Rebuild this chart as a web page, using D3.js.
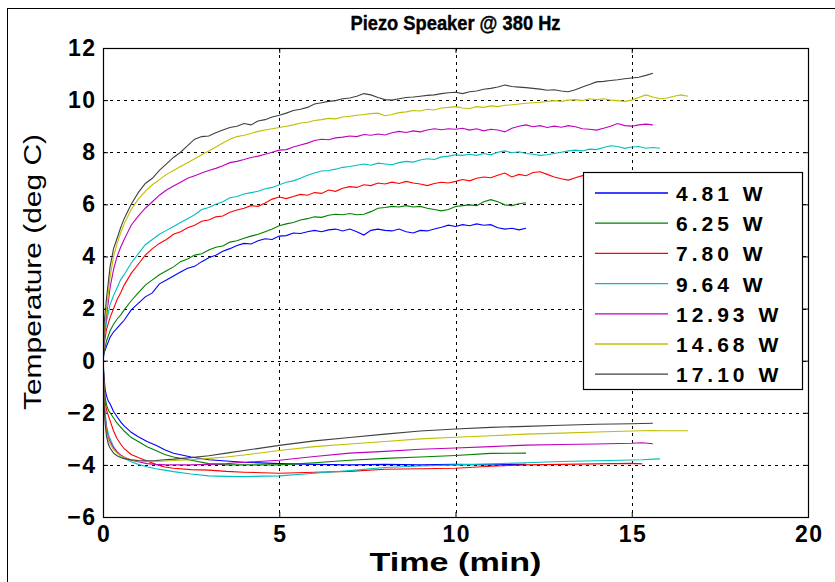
<!DOCTYPE html>
<html>
<head>
<meta charset="utf-8">
<script src="https://cdn.jsdelivr.net/npm/d3@7"></script>
<style>
  html, body { margin: 0; padding: 0; background: #fff; }
  svg { display: block; }
  text { font-family: "Liberation Sans", Arial, sans-serif; }
</style>
</head>
<body>
<div id="chart"></div>
<script>
// ---------------- DATA ----------------
const title = "Piezo Speaker @ 380 Hz";
const xLabel = "Time (min)";
const yLabel = "Temperature (deg C)";
const xTicks = [0, 5, 10, 15, 20];
const yTicks = [-6, -4, -2, 0, 2, 4, 6, 8, 10, 12];
const seriesNames = ["4.81 W", "6.25 W", "7.80 W", "9.64 W", "12.93 W", "14.68 W", "17.10 W"];
const seriesColors = ["#0000ff", "#008000", "#ff0000", "#00bfbf", "#bf00bf", "#bfbf00", "#404040"];

// time grid (min) for the heating (upper) curves
const timeUp = [0, 0.03, 0.1, 0.2, 0.3, 0.4, 0.5, 0.6, 0.8, 1.0,
  1.2, 1.4, 1.6, 1.8, 2.0, 2.2, 2.4, 2.6, 2.8, 3.0, 3.2, 3.4, 3.6, 3.8, 4.0,
  4.2, 4.4, 4.6, 4.8, 5.0, 5.2, 5.4, 5.6, 5.8, 6.0, 6.2, 6.4, 6.6, 6.8, 7.0,
  7.2, 7.4, 7.6, 7.8, 8.0, 8.2, 8.4, 8.6, 8.8, 9.0, 9.2, 9.4, 9.6, 9.8, 10.0,
  10.2, 10.4, 10.6, 10.8, 11.0, 11.2, 11.4, 11.6, 11.8, 12.0, 12.2, 12.4, 12.6, 12.8, 13.0,
  13.2, 13.4, 13.6, 13.8, 14.0, 14.2, 14.4, 14.6, 14.8, 15.0, 15.2, 15.4, 15.6, 15.8, 16.0,
  16.2, 16.4, 16.6];

const up481 = [0, 0.3, 0.55, 0.9, 1.1, 1.25, 1.4, 1.55, 1.95, 2.2,
  2.45, 2.6, 2.95, 3.1, 3.25, 3.4, 3.55, 3.62, 3.8, 3.95, 4.05, 4.2, 4.3, 4.42, 4.5,
  4.48, 4.6, 4.68, 4.65, 4.78, 4.8, 4.9, 4.88, 4.95, 5.0, 4.95, 5.02, 5.05, 4.98, 5.05,
  4.95, 4.82, 5.0, 5.05, 5.0, 4.98, 5.05, 4.95, 4.9, 5.0, 4.98, 5.05, 5.12, 5.2, 5.15,
  5.22, 5.18, 5.25, 5.2, 5.22, 5.1, 5.05, 5.08, 5.02, 5.08];
const up625 = [0, 0.35, 0.75, 1.15, 1.4, 1.6, 1.75, 1.95, 2.3, 2.6,
  2.9, 3.1, 3.3, 3.45, 3.6, 3.8, 3.9, 4.05, 4.1, 4.25, 4.35, 4.4, 4.55, 4.6, 4.7,
  4.78, 4.85, 4.95, 5.05, 5.18, 5.25, 5.3, 5.4, 5.45, 5.52, 5.5, 5.58, 5.62, 5.6, 5.65,
  5.6, 5.62, 5.72, 5.85, 5.88, 5.92, 5.9, 5.95, 5.9, 5.92, 5.85, 5.8, 5.75, 5.8, 5.92,
  5.95, 5.98, 5.95, 6.1, 6.18, 6.1, 5.98, 5.95, 6.02, 6.06];
const up780 = [0, 0.6, 1.2, 1.65, 2.0, 2.35, 2.6, 2.9, 3.35, 3.7,
  4.05, 4.3, 4.5, 4.65, 4.85, 4.95, 5.1, 5.2, 5.35, 5.4, 5.52, 5.55, 5.7, 5.78, 5.85,
  5.95, 5.92, 6.05, 6.2, 6.28, 6.22, 6.3, 6.38, 6.35, 6.45, 6.42, 6.55, 6.5, 6.62, 6.68,
  6.65, 6.75, 6.72, 6.82, 6.78, 6.85, 6.8, 6.88, 6.82, 6.78, 6.72, 6.8, 6.85, 6.82, 6.88,
  6.95, 6.9, 7.0, 7.05, 7.02, 7.12, 7.2, 7.05, 7.15, 7.1, 7.22, 7.25, 7.15, 7.05, 6.98,
  6.93, 7.02, 7.1, 7.05, 7.12, 7.08, 7.18, 7.12, 7.2, 7.15, 7.18, 7.12];
const up964 = [0, 0.8, 1.5, 2.15, 2.5, 2.8, 3.1, 3.3, 3.75, 4.1,
  4.45, 4.65, 4.85, 5.0, 5.15, 5.3, 5.45, 5.6, 5.8, 5.88, 6.0, 6.1, 6.25, 6.3, 6.4,
  6.45, 6.5, 6.6, 6.65, 6.75, 6.85, 6.9, 7.0, 7.12, 7.2, 7.28, 7.3, 7.35, 7.42, 7.45,
  7.5, 7.55, 7.5, 7.58, 7.55, 7.52, 7.6, 7.65, 7.62, 7.7, 7.75, 7.72, 7.82, 7.85, 7.9,
  7.88, 7.92, 7.88, 7.95, 7.9, 8.0, 8.05, 7.98, 8.02, 7.95, 7.92, 7.88, 7.9, 7.95, 8.0,
  8.05, 8.08, 8.05, 8.12, 8.1, 8.18, 8.25, 8.22, 8.15, 8.2, 8.22, 8.15, 8.18, 8.15];
const up1293 = [0, 1.0, 1.7, 2.8, 3.5, 4.0, 4.35, 4.65, 5.2, 5.55,
  5.85, 6.1, 6.35, 6.55, 6.7, 6.85, 7.0, 7.1, 7.2, 7.3, 7.38, 7.48, 7.6, 7.65, 7.72,
  7.8, 7.85, 7.92, 8.0, 8.08, 8.1, 8.2, 8.28, 8.35, 8.45, 8.5, 8.48, 8.55, 8.58, 8.62,
  8.6, 8.68, 8.65, 8.7, 8.66, 8.75, 8.8, 8.76, 8.82, 8.78, 8.85, 8.9, 8.86, 8.9, 8.88,
  8.92, 8.85, 8.9, 8.82, 8.88, 8.85, 8.78, 8.92, 9.0, 9.05, 8.98, 9.02, 8.95, 9.0, 8.96,
  9.02, 8.98, 8.9, 8.88, 8.85, 8.92, 9.0, 9.1, 9.02, 9.0, 9.05, 9.08, 9.05];
const up1468 = [0, 1.1, 1.9, 3.2, 4.0, 4.5, 4.9, 5.25, 5.8, 6.2,
  6.5, 6.75, 6.95, 7.15, 7.3, 7.45, 7.6, 7.75, 7.9, 8.05, 8.2, 8.35, 8.5, 8.6, 8.65,
  8.72, 8.8, 8.85, 8.9, 8.95, 9.0, 9.05, 9.12, 9.15, 9.22, 9.25, 9.3, 9.28, 9.35, 9.38,
  9.42, 9.45, 9.48, 9.5, 9.4, 9.45, 9.52, 9.55, 9.6, 9.58, 9.65, 9.62, 9.7, 9.72, 9.75,
  9.7, 9.68, 9.75, 9.72, 9.78, 9.75, 9.8, 9.82, 9.85, 9.88, 9.9, 9.92, 9.95, 9.98, 9.95,
  10.0, 10.02, 9.98, 10.05, 10.02, 10.05, 10.0, 9.98, 9.95, 10.0, 10.1, 10.2, 10.12, 10.05, 10.08,
  10.15, 10.2, 10.15];
const up1710 = [0, 1.4, 2.4, 3.6, 4.3, 4.7, 5.1, 5.45, 6.0, 6.45,
  6.8, 7.0, 7.3, 7.55, 7.8, 8.0, 8.25, 8.5, 8.6, 8.62, 8.75, 8.85, 8.95, 9.0, 9.1,
  9.05, 9.2, 9.25, 9.35, 9.42, 9.5, 9.6, 9.65, 9.72, 9.85, 9.9, 9.95, 9.98, 10.05, 10.08,
  10.15, 10.25, 10.2, 10.1, 10.02, 10.0, 10.05, 10.1, 10.12, 10.15, 10.18, 10.2, 10.25, 10.28, 10.3,
  10.25, 10.32, 10.35, 10.42, 10.45, 10.5, 10.58, 10.52, 10.5, 10.48, 10.45, 10.42, 10.38, 10.4, 10.35,
  10.32, 10.4, 10.5, 10.6, 10.7, 10.72, 10.75, 10.78, 10.82, 10.85, 10.88, 10.95, 11.03];

// time grid (min) for the cooling (lower) curves
const timeLow = [0, 0.03, 0.06, 0.1, 0.15, 0.2, 0.3, 0.4, 0.5, 0.6, 0.8, 1.0,
  1.25, 1.5, 1.75, 2.0, 2.5, 3.0, 3.5, 4.0, 5.0, 6.0, 7.0, 8.0, 9.0, 10.0,
  11.0, 12.0, 13.0, 14.0, 15.0, 15.3, 15.6, 15.8, 16.6];

const low481 = [0, -0.6, -1.1, -1.35, -1.55, -1.65, -1.95, -2.15, -2.35, -2.5, -2.75, -2.92,
  -3.1, -3.25, -3.42, -3.55, -3.7, -3.8, -3.85, -3.9, -3.95, -3.98, -4.0, -3.98, -4.0, -3.98,
  -4.0, -3.98];
const low625 = [0, -0.8, -1.4, -1.7, -1.9, -2.0, -2.2, -2.4, -2.55, -2.7, -2.95, -3.1,
  -3.3, -3.45, -3.6, -3.7, -3.82, -3.95, -4.0, -4.0, -4.0, -3.92, -3.82, -3.75, -3.7, -3.64,
  -3.56, -3.55];
const low780 = [0, -1.0, -1.6, -1.9, -2.1, -2.3, -2.7, -3.0, -3.2, -3.38, -3.6, -3.72,
  -3.85, -3.98, -4.08, -4.13, -4.18, -4.2, -4.25, -4.28, -4.32, -4.28, -4.25, -4.17, -4.15, -4.13,
  -4.05, -4.0, -3.98, -3.96, -3.94, -3.96];
const low964 = [0, -1.3, -2.0, -2.5, -2.8, -3.0, -3.3, -3.5, -3.65, -3.75, -3.88, -3.98,
  -4.07, -4.15, -4.2, -4.26, -4.35, -4.42, -4.44, -4.45, -4.42, -4.32, -4.22, -4.1, -4.04, -4.0,
  -3.96, -3.92, -3.87, -3.84, -3.81, -3.8, -3.78, -3.77];
const low1293 = [0, -1.4, -2.1, -2.6, -2.95, -3.1, -3.35, -3.5, -3.62, -3.7, -3.82, -3.88,
  -3.95, -3.98, -4.0, -4.0, -4.0, -3.98, -3.95, -3.9, -3.82, -3.68, -3.55, -3.48, -3.4, -3.35,
  -3.3, -3.24, -3.22, -3.2, -3.17, -3.15, -3.19];
const low1468 = [0, -1.5, -2.2, -2.75, -3.05, -3.2, -3.42, -3.55, -3.65, -3.72, -3.8, -3.85,
  -3.87, -3.87, -3.85, -3.83, -3.8, -3.75, -3.7, -3.62, -3.45, -3.3, -3.2, -3.1, -3.0, -2.94,
  -2.88, -2.82, -2.78, -2.74, -2.7, -2.69, -2.68, -2.69, -2.69];
const low1710 = [0, -1.6, -2.4, -2.9, -3.2, -3.35, -3.55, -3.65, -3.72, -3.76, -3.8, -3.83,
  -3.84, -3.83, -3.8, -3.78, -3.72, -3.65, -3.55, -3.45, -3.25, -3.08, -2.95, -2.82, -2.7, -2.62,
  -2.56, -2.52, -2.48, -2.44, -2.42, -2.41, -2.4];

const upperSeries = [up481, up625, up780, up964, up1293, up1468, up1710];
const lowerSeries = [low481, low625, low780, low964, low1293, low1468, low1710];

// ---------------- LAYOUT ----------------
const W = 835, H = 582;
const plot = { left: 103, right: 808, top: 48, bottom: 517 };

const svg = d3.select("#chart").append("svg")
  .attr("width", W).attr("height", H);

svg.append("rect").attr("width", W).attr("height", H).attr("fill", "#fff");
// outer figure frame
svg.append("rect").attr("x", 7.5).attr("y", 8.5).attr("width", 900).attr("height", 700)
  .attr("fill", "none").attr("stroke", "#000").attr("stroke-width", 1);

const x = d3.scaleLinear().domain([0, 20]).range([plot.left, plot.right]);
const y = d3.scaleLinear().domain([-6, 12]).range([plot.bottom, plot.top]);

// grid
const grid = svg.append("g");
grid.selectAll("line.gx").data(xTicks.filter(d => d > 0 && d < 20)).join("line")
  .attr("x1", d => Math.round(x(d)) + 0.5).attr("x2", d => Math.round(x(d)) + 0.5)
  .attr("y1", plot.top).attr("y2", plot.bottom)
  .attr("stroke", "#000").attr("stroke-dasharray", "3,4").attr("stroke-width", 1);
grid.selectAll("line.gy").data(yTicks.filter(d => d > -6 && d < 12)).join("line")
  .attr("y1", d => Math.round(y(d)) + 0.5).attr("y2", d => Math.round(y(d)) + 0.5)
  .attr("x1", plot.left).attr("x2", plot.right)
  .attr("stroke", "#000").attr("stroke-dasharray", "3,4").attr("stroke-width", 1);

// axes (MATLAB style, ticks inward)
const LS = 1.5;
const tickStyle = g => {
  g.select(".domain").remove();
  g.selectAll(".tick line").attr("stroke", "#000");
  g.selectAll(".tick text")
    .attr("font-family", "Liberation Sans, Arial, sans-serif")
    .attr("font-weight", "bold").attr("font-size", 23).attr("fill", "#000")
    .attr("letter-spacing", LS);
};
svg.append("g").attr("transform", `translate(0,${plot.bottom})`)
  .call(d3.axisBottom(x).tickValues(xTicks).tickFormat(d3.format("d")).tickSizeInner(-5).tickSizeOuter(0).tickPadding(9))
  .call(tickStyle)
  .call(g => g.selectAll(".tick text").attr("dx", LS / 2));
svg.append("g").attr("transform", `translate(0,${plot.top})`)
  .call(d3.axisTop(x).tickValues(xTicks).tickFormat("").tickSizeInner(-5).tickSizeOuter(0))
  .call(tickStyle);
svg.append("g").attr("transform", `translate(${plot.left},0)`)
  .call(d3.axisLeft(y).tickValues(yTicks).tickFormat(d3.format("d")).tickSizeInner(-5).tickSizeOuter(0).tickPadding(6.5))
  .call(tickStyle);
svg.append("g").attr("transform", `translate(${plot.right},0)`)
  .call(d3.axisRight(y).tickValues(yTicks).tickFormat("").tickSizeInner(-5).tickSizeOuter(0))
  .call(tickStyle);

// curves
svg.append("clipPath").attr("id", "clip").append("rect")
  .attr("x", plot.left).attr("y", plot.top)
  .attr("width", plot.right - plot.left).attr("height", plot.bottom - plot.top);

const lineUp = d3.line().x((d, i) => x(timeUp[i])).y(d => y(d));
const lineLow = d3.line().x((d, i) => x(timeLow[i])).y(d => y(d));
const curves = svg.append("g").attr("clip-path", "url(#clip)");
lowerSeries.forEach((s, k) => {
  curves.append("path").attr("d", lineLow(s)).attr("fill", "none")
    .attr("stroke", seriesColors[k]).attr("stroke-width", 1.1);
});
upperSeries.forEach((s, k) => {
  curves.append("path").attr("d", lineUp(s)).attr("fill", "none")
    .attr("stroke", seriesColors[k]).attr("stroke-width", 1.1);
});

// plot box
svg.append("rect").attr("x", plot.left + 0.5).attr("y", plot.top + 0.5)
  .attr("width", plot.right - plot.left).attr("height", plot.bottom - plot.top)
  .attr("fill", "none").attr("stroke", "#000").attr("stroke-width", 1.2);

// legend
const lg = { x: 583, y: 172, w: 219, h: 217, row: 30.2, first: 193 };
const legend = svg.append("g");
legend.append("rect").attr("x", lg.x + 0.5).attr("y", lg.y + 0.5).attr("width", lg.w).attr("height", lg.h)
  .attr("fill", "#fff").attr("stroke", "#000").attr("stroke-width", 1.2);
seriesNames.forEach((name, k) => {
  const yy = lg.first + k * lg.row;
  legend.append("line").attr("x1", 595).attr("x2", 668).attr("y1", yy).attr("y2", yy)
    .attr("stroke", seriesColors[k]).attr("stroke-width", 1.3);
  legend.append("text").attr("x", 676).attr("y", yy + 8).text(name)
    .attr("font-weight", "bold").attr("font-size", 21).attr("letter-spacing", 4).attr("fill", "#000");
});

// title and labels
svg.append("text").attr("x", (plot.left + plot.right) / 2).attr("y", 30)
  .attr("text-anchor", "middle").attr("font-weight", "bold").attr("font-size", 21)
  .attr("stroke", "#000").attr("stroke-width", 0.4)
  .attr("textLength", 210).attr("lengthAdjust", "spacingAndGlyphs").text(title);
svg.append("text").attr("x", (plot.left + plot.right) / 2).attr("y", 571)
  .attr("text-anchor", "middle").attr("font-weight", "bold").attr("font-size", 26)
  .attr("textLength", 172).attr("lengthAdjust", "spacingAndGlyphs").text(xLabel);
svg.append("text").attr("transform", `translate(41,272) rotate(-90)`)
  .attr("text-anchor", "middle").attr("font-size", 23)
  .attr("textLength", 276).attr("lengthAdjust", "spacingAndGlyphs").text(yLabel);
</script>
</body>
</html>
